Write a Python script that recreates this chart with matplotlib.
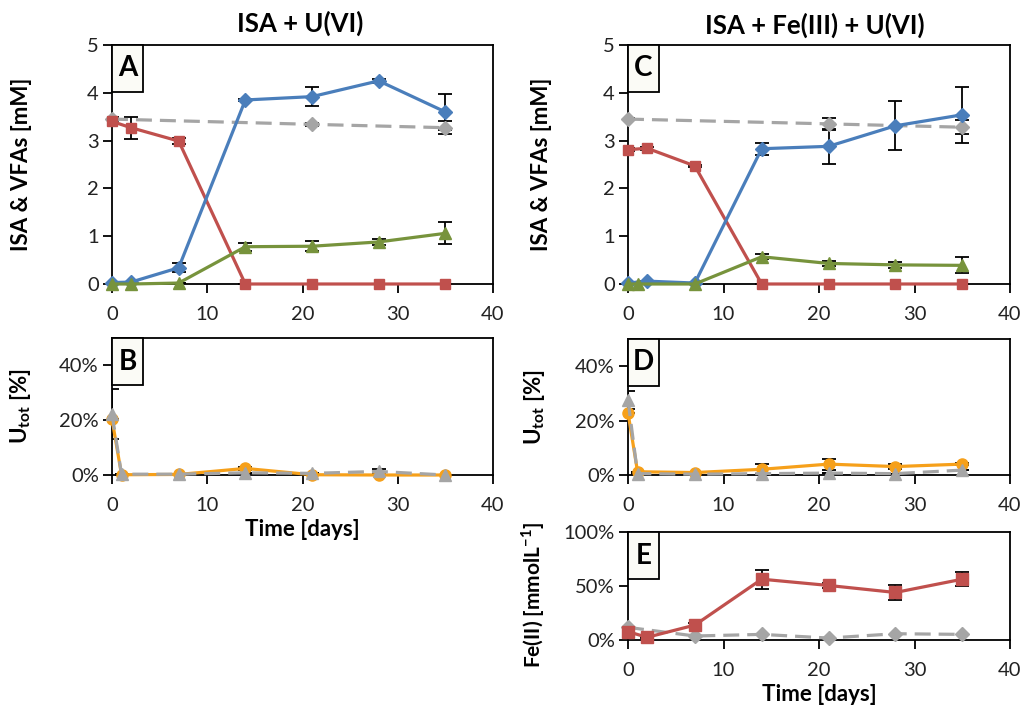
import numpy as np
import matplotlib.pyplot as plt
from matplotlib.patches import Rectangle
from matplotlib.ticker import PercentFormatter

plt.rcParams['font.family'] = ['Lato', 'DejaVu Sans']
plt.rcParams['mathtext.fontset'] = 'custom'
plt.rcParams['mathtext.bf'] = 'Lato:bold'
plt.rcParams['mathtext.rm'] = 'Lato'

BLUE = '#4a7ebb'
RED = '#c0504d'
GREEN = '#77933c'
ORANGE = '#f6a01a'
GRAY = '#a5a5a5'

# panel A: ISA + U(VI)
a_blue_x = [0, 2, 7, 14, 21, 28, 35]
a_blue_y = [0.03, 0.04, 0.34, 3.85, 3.92, 4.25, 3.60]
a_blue_e = [0, 0, 0.09, 0.03, 0.20, 0.04, 0.37]
a_red_x = [0, 2, 7, 14, 21, 28, 35]
a_red_y = [3.40, 3.27, 2.99, 0, 0, 0, 0]
a_red_e = [0.03, 0.23, 0.06, 0, 0, 0, 0]
a_green_x = [0, 2, 7, 14, 21, 28, 35]
a_green_y = [0, 0, 0.02, 0.78, 0.79, 0.88, 1.06]
a_green_e = [0, 0, 0, 0.08, 0.10, 0.07, 0.23]
a_gray_x = [0, 21, 35]
a_gray_y = [3.45, 3.34, 3.27]
a_gray_e = [0.05, 0.03, 0.14]

# panel C: ISA + Fe(III) + U(VI)
c_blue_x = [0, 2, 7, 14, 21, 28, 35]
c_blue_y = [0.02, 0.06, 0.02, 2.83, 2.88, 3.31, 3.54]
c_blue_e = [0, 0, 0, 0.13, 0.36, 0.51, 0.58]
c_red_x = [0, 2, 7, 14, 21, 28, 35]
c_red_y = [2.81, 2.84, 2.47, 0, 0, 0, 0]
c_red_e = [0.03, 0.03, 0.03, 0, 0, 0, 0]
c_green_x = [0, 1, 7, 14, 21, 28, 35]
c_green_y = [0, 0, 0, 0.57, 0.43, 0.40, 0.39]
c_green_e = [0, 0, 0, 0.05, 0.06, 0.07, 0.17]
c_gray_x = [0, 21, 35]
c_gray_y = [3.45, 3.35, 3.28]
c_gray_e = [0.02, 0.12, 0.15]

# panel B / D: Utot [%]
b_or_x = [0, 1, 7, 14, 21, 28, 35]
b_or_y = [20.4, 0.1, 0.2, 2.4, 0.1, 0.0, 0.0]
b_or_e = [0, 0, 0, 0.5, 0, 0, 0]
b_gr_x = [0, 1, 7, 14, 21, 28, 35]
b_gr_y = [22.3, 0.3, 0.3, 0.8, 0.6, 1.3, 0.0]
b_gr_e = [9.0, 0, 0, 0, 0, 0.8, 0]

d_or_x = [0, 1, 7, 14, 21, 28, 35]
d_or_y = [22.9, 1.2, 0.9, 2.1, 4.0, 3.1, 4.0]
d_or_e = [0, 0, 0, 2.0, 2.0, 1.0, 0.5]
d_gr_x = [0, 1, 7, 14, 21, 28, 35]
d_gr_y = [27.5, 0.5, 0.3, 0.5, 0.7, 0.5, 1.8]
d_gr_e = [3.2, 0, 0, 0, 0, 0, 0]

# panel E: Fe(II)
e_red_x = [0, 2, 7, 14, 21, 28, 35]
e_red_y = [7.7, 2.5, 13.8, 56.3, 50.5, 44.0, 56.3]
e_red_e = [1.0, 0.5, 1.5, 8.7, 2.5, 6.5, 6.3]
e_gray_x = [0, 7, 14, 21, 28, 35]
e_gray_y = [11.7, 3.7, 5.2, 1.8, 5.8, 5.2]

W, H = 1023, 710
fig = plt.figure(figsize=(W / 100, H / 100), dpi=100)


def make_ax(l, t, r, b):
    return fig.add_axes([l / W, 1 - b / H, (r - l) / W, (b - t) / H])


axA = make_ax(112, 45, 493, 284)
axC = make_ax(628, 45, 1010, 284)
axB = make_ax(112, 338, 493, 475)
axD = make_ax(628, 339, 1010, 475)
axE = make_ax(628, 532, 1010, 640)


def style(ax, letter, ylim, yticks, pct=False):
    ax.set_xlim(0, 40)
    ax.set_xticks([0, 10, 20, 30, 40])
    ax.set_ylim(*ylim)
    ax.set_yticks(yticks)
    if pct:
        ax.yaxis.set_major_formatter(PercentFormatter(decimals=0))
    ax.tick_params(direction='out', length=6.5, width=1.3, labelsize=14.5,
                   colors='black', labelcolor='#222222')
    ax.tick_params(axis='x', pad=9)
    ax.tick_params(axis='y', pad=3)
    for s in ax.spines.values():
        s.set_linewidth(1.3)
        s.set_color('black')
    # letter box, fixed pixel size
    bb = ax.get_position()
    wf = 31 / (bb.width * W)
    hf = 47 / (bb.height * H)
    ax.add_patch(Rectangle((0, 1 - hf), wf, hf, transform=ax.transAxes,
                           facecolor='#fbfbf6', edgecolor='black', lw=1.3,
                           zorder=5, clip_on=False))
    ax.text(wf / 2, 1 - hf / 2, letter, transform=ax.transAxes, ha='center',
            va='center', fontsize=20, fontweight='bold', zorder=6)


def series(ax, x, y, e, color, marker, ls='-', ms=8):
    if e is not None:
        ax.errorbar(x, y, yerr=e, fmt='none', ecolor='black', elinewidth=1.3,
                    capsize=5, capthick=1.3, zorder=2)
    ax.plot(x, y, color=color, marker=marker, ls=ls, lw=2.3, ms=ms,
            dashes=(5, 2.5) if ls == '--' else (None, None), zorder=3,
            clip_on=False)


series(axA, a_gray_x, a_gray_y, a_gray_e, GRAY, 'D', '--', 7)
series(axA, a_red_x, a_red_y, a_red_e, RED, 's', ms=7)
series(axA, a_blue_x, a_blue_y, a_blue_e, BLUE, 'D', ms=7)
series(axA, a_green_x, a_green_y, a_green_e, GREEN, '^', ms=9)
style(axA, 'A', (0, 5), [0, 1, 2, 3, 4, 5])

series(axC, c_gray_x, c_gray_y, c_gray_e, GRAY, 'D', '--', 7)
series(axC, c_red_x, c_red_y, c_red_e, RED, 's', ms=7)
series(axC, c_blue_x, c_blue_y, c_blue_e, BLUE, 'D', ms=7)
series(axC, c_green_x, c_green_y, c_green_e, GREEN, '^', ms=9)
style(axC, 'C', (0, 5), [0, 1, 2, 3, 4, 5])

series(axB, b_or_x, b_or_y, b_or_e, ORANGE, 'o', ms=8)
series(axB, b_gr_x, b_gr_y, b_gr_e, GRAY, '^', '--', 8)
style(axB, 'B', (0, 50), [0, 20, 40], pct=True)

series(axD, d_or_x, d_or_y, d_or_e, ORANGE, 'o', ms=8)
series(axD, d_gr_x, d_gr_y, d_gr_e, GRAY, '^', '--', 8)
style(axD, 'D', (0, 50), [0, 20, 40], pct=True)

series(axE, e_gray_x, e_gray_y, None, GRAY, 'D', '--', 7)
series(axE, e_red_x, e_red_y, e_red_e, RED, 's', ms=8)
style(axE, 'E', (0, 100), [0, 50, 100], pct=True)

lab = dict(fontsize=16, fontweight='bold')
axA.set_ylabel('ISA & VFAs [mM]', **lab)
axC.set_ylabel('ISA & VFAs [mM]', **lab)
axB.set_ylabel(r'U$_{\mathbf{tot}}$ [%]', **lab)
axD.set_ylabel(r'U$_{\mathbf{tot}}$ [%]', **lab)
axE.set_ylabel(r'Fe(II) [mmolL$^{\mathbf{-1}}$]', fontsize=15,
               fontweight='bold')
axA.yaxis.set_label_coords(-0.21, 0.5)
axC.yaxis.set_label_coords(-0.199, 0.5)
axB.yaxis.set_label_coords(-0.207, 0.5)
axD.yaxis.set_label_coords(-0.212, 0.5)
axE.yaxis.set_label_coords(-0.212, 0.42)

axB.set_xlabel('Time [days]', labelpad=4, **lab)
axE.set_xlabel('Time [days]', labelpad=4, **lab)

fig.text(300 / W, 1 - 23 / H, 'ISA + U(VI)', ha='center', va='center',
         fontsize=18.5, fontweight='bold')
fig.text(815 / W, 1 - 25 / H, 'ISA + Fe(III) + U(VI)', ha='center',
         va='center', fontsize=18.5, fontweight='bold')

fig.savefig('out.png', dpi=100, facecolor='white')
